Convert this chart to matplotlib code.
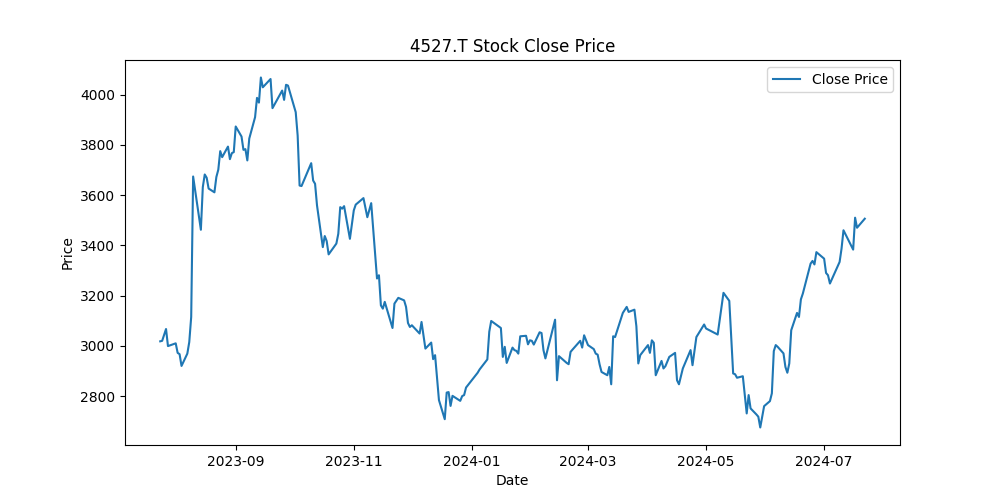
import matplotlib
matplotlib.use("Agg")
import matplotlib.pyplot as plt
import matplotlib.dates as mdates
import pandas as pd

# one line per month: dates and close prices are aligned line by line
dates = [
    "2023-07-24", "2023-07-25", "2023-07-27", "2023-07-28",
    "2023-08-01", "2023-08-02", "2023-08-03", "2023-08-04", "2023-08-07", "2023-08-08", "2023-08-09", "2023-08-10", "2023-08-14", "2023-08-15", "2023-08-16", "2023-08-17", "2023-08-18", "2023-08-21", "2023-08-22", "2023-08-23", "2023-08-24", "2023-08-25", "2023-08-28", "2023-08-29", "2023-08-30", "2023-08-31",
    "2023-09-01", "2023-09-04", "2023-09-05", "2023-09-06", "2023-09-07", "2023-09-08", "2023-09-11", "2023-09-12", "2023-09-13", "2023-09-14", "2023-09-15", "2023-09-19", "2023-09-20", "2023-09-25", "2023-09-26", "2023-09-27", "2023-09-28",
    "2023-10-02", "2023-10-03", "2023-10-04", "2023-10-05", "2023-10-10", "2023-10-11", "2023-10-12", "2023-10-13", "2023-10-16", "2023-10-17", "2023-10-18", "2023-10-19", "2023-10-23", "2023-10-24", "2023-10-25", "2023-10-26", "2023-10-27", "2023-10-30",
    "2023-11-01", "2023-11-02", "2023-11-06", "2023-11-08", "2023-11-10", "2023-11-13", "2023-11-14", "2023-11-15", "2023-11-16", "2023-11-17", "2023-11-21", "2023-11-22", "2023-11-24", "2023-11-27", "2023-11-28", "2023-11-29", "2023-11-30",
    "2023-12-01", "2023-12-05", "2023-12-06", "2023-12-08", "2023-12-11", "2023-12-12", "2023-12-13", "2023-12-15", "2023-12-18", "2023-12-19", "2023-12-20", "2023-12-21", "2023-12-22", "2023-12-26", "2023-12-27", "2023-12-28", "2023-12-29",
    "2024-01-04", "2024-01-05", "2024-01-09", "2024-01-10", "2024-01-11", "2024-01-16", "2024-01-17", "2024-01-18", "2024-01-19", "2024-01-22", "2024-01-23", "2024-01-24", "2024-01-25", "2024-01-26", "2024-01-29", "2024-01-30", "2024-01-31",
    "2024-02-01", "2024-02-02", "2024-02-05", "2024-02-06", "2024-02-07", "2024-02-08", "2024-02-13", "2024-02-14", "2024-02-15", "2024-02-19", "2024-02-20", "2024-02-21", "2024-02-22", "2024-02-26", "2024-02-27", "2024-02-28",
    "2024-03-01", "2024-03-04", "2024-03-05", "2024-03-06", "2024-03-07", "2024-03-08", "2024-03-11", "2024-03-12", "2024-03-13", "2024-03-14", "2024-03-15", "2024-03-19", "2024-03-21", "2024-03-22", "2024-03-25", "2024-03-26", "2024-03-27", "2024-03-28",
    "2024-04-01", "2024-04-02", "2024-04-03", "2024-04-04", "2024-04-05", "2024-04-08", "2024-04-09", "2024-04-10", "2024-04-12", "2024-04-15", "2024-04-16", "2024-04-17", "2024-04-19", "2024-04-23", "2024-04-24", "2024-04-26", "2024-04-30",
    "2024-05-01", "2024-05-07", "2024-05-10", "2024-05-13", "2024-05-15", "2024-05-16", "2024-05-17", "2024-05-20", "2024-05-22", "2024-05-23", "2024-05-24", "2024-05-27", "2024-05-28", "2024-05-29", "2024-05-31",
    "2024-06-03", "2024-06-04", "2024-06-05", "2024-06-06", "2024-06-07", "2024-06-10", "2024-06-11", "2024-06-12", "2024-06-13", "2024-06-14", "2024-06-17", "2024-06-18", "2024-06-19", "2024-06-20", "2024-06-24", "2024-06-25", "2024-06-26", "2024-06-27",
    "2024-07-01", "2024-07-02", "2024-07-03", "2024-07-04", "2024-07-09", "2024-07-10", "2024-07-11", "2024-07-16", "2024-07-17", "2024-07-18", "2024-07-22",
]

close_price = [
    3018, 3020, 3067, 2999,
    3010, 2972, 2967, 2920, 2969, 3015, 3115, 3674, 3462, 3632, 3682, 3669, 3626, 3611, 3672, 3701, 3775, 3751, 3793, 3743, 3767, 3771,
    3873, 3833, 3780, 3783, 3738, 3825, 3910, 3987, 3968, 4068, 4029, 4062, 3946, 4016, 3979, 4039, 4036,
    3930, 3837, 3638, 3636, 3727, 3658, 3645, 3559, 3393, 3437, 3417, 3364, 3407, 3446, 3552, 3546, 3556, 3426,
    3539, 3562, 3588, 3512, 3568, 3268, 3281, 3161, 3148, 3175, 3071, 3168, 3191, 3181, 3155, 3091, 3075,
    3082, 3049, 3095, 2989, 3013, 2947, 2963, 2784, 2708, 2814, 2816, 2761, 2801, 2781, 2800, 2804, 2834,
    2893, 2906, 2946, 3056, 3099, 3071, 2956, 2996, 2932, 2993, 2983, 2980, 2969, 3038, 3040, 3006, 3022,
    3020, 3005, 3054, 3051, 2983, 2950, 3104, 2863, 2959, 2932, 2927, 2976, 2985, 3020, 2993, 3042,
    3003, 2987, 2969, 2965, 2926, 2896, 2883, 2916, 2847, 3038, 3035, 3131, 3155, 3135, 3144, 3078, 2930, 2963,
    3003, 2972, 3022, 3012, 2883, 2940, 2910, 2919, 2956, 2972, 2863, 2847, 2910, 2983, 2923, 3035, 3085,
    3069, 3045, 3211, 3179, 2890, 2887, 2873, 2879, 2731, 2804, 2751, 2727, 2718, 2675, 2760,
    2780, 2811, 2979, 3003, 2996, 2970, 2916, 2893, 2930, 3062, 3131, 3115, 3185, 3208, 3327, 3338, 3324, 3373,
    3347, 3290, 3281, 3248, 3334, 3387, 3460, 3383, 3510, 3470, 3506,
]

x = pd.to_datetime(dates)

fig, ax = plt.subplots(figsize=(10, 5), dpi=100)
ax.plot(x, close_price, color="#1f77b4", label="Close Price")
ax.set_title("4527.T Stock Close Price")
ax.set_xlabel("Date")
ax.set_ylabel("Price")
ax.legend(loc="upper right")
ax.xaxis.set_major_locator(mdates.MonthLocator(bymonth=[1, 3, 5, 7, 9, 11]))
ax.xaxis.set_major_formatter(mdates.DateFormatter("%Y-%m"))
fig.savefig("out.png", dpi=100)
